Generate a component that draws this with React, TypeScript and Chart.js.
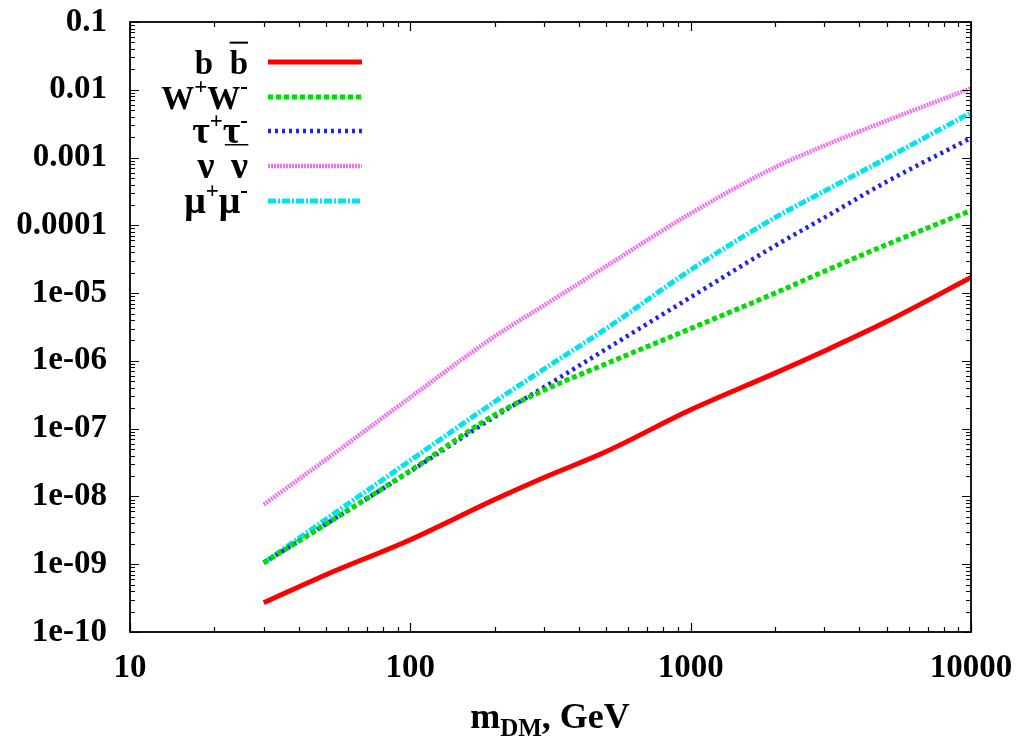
import React, { useEffect, useRef } from "react";
import { Chart, registerables } from "chart.js";

Chart.register(...registerables);

// Dark-matter mass grid (GeV)
const masses = [30, 50, 100, 200, 300, 500, 1000, 2000, 3000, 5000, 10000];

// Values per annihilation channel at each mass
const bbValues = [2.7e-10, 7e-10, 2.3e-9, 9e-9, 1.9e-8, 4.6e-8, 1.9e-7, 6.6e-7, 1.4e-6, 3.8e-6, 1.7e-5];
const wwValues = [1.05e-9, 3.9e-9, 2.4e-8, 1.6e-7, 3.7e-7, 9.1e-7, 3.0e-6, 1.0e-5, 2.1e-5, 5.2e-5, 1.66e-4];
const tautauValues = [1.05e-9, 3.9e-9, 2.35e-8, 1.5e-7, 4.1e-7, 1.5e-6, 8.7e-6, 5.0e-5, 1.3e-4, 4.4e-4, 1.95e-3];
const nunuValues = [7.6e-9, 3.5e-8, 2.9e-7, 2.3e-6, 6.6e-6, 2.5e-5, 1.5e-4, 7.2e-4, 1.5e-3, 3.5e-3, 1.05e-2];
const mumuValues = [1.05e-9, 4.6e-9, 3.4e-8, 2.5e-7, 7.6e-7, 3.0e-6, 2.2e-5, 1.3e-4, 3.2e-4, 9.8e-4, 4.6e-3];

// Axis ticks
const xTickValues = [10, 100, 1000, 10000];
const xTickLabels = ["10", "100", "1000", "10000"];
const yTickValues = [1e-10, 1e-9, 1e-8, 1e-7, 1e-6, 1e-5, 1e-4, 1e-3, 1e-2, 1e-1];
const yTickLabels = ["1e-10", "1e-09", "1e-08", "1e-07", "1e-06", "1e-05", "0.0001", "0.001", "0.01", "0.1"];

const SERIF = "'Liberation Serif', 'DejaVu Serif', serif";

type Part = { t: string; sup?: boolean; over?: boolean; under?: boolean; greek?: boolean };

// Legend labels, in gnuplot-like enhanced notation
const legendLabels: Part[][] = [
  [{ t: "b" }, { t: "  " }, { t: "b", over: true }],
  [{ t: "W" }, { t: "+", sup: true }, { t: "W" }, { t: "-", sup: true }],
  [{ t: "τ", greek: true }, { t: "+", sup: true }, { t: "τ", greek: true, under: true }, { t: "-", sup: true }],
  [{ t: "ν", greek: true }, { t: "  " }, { t: "ν", greek: true }],
  [{ t: "μ", greek: true }, { t: "+", sup: true }, { t: "μ", greek: true }, { t: "-", sup: true }],
];

const lineStyles = [
  { color: "#ff0000", width: 5, dash: [] as number[] },
  { color: "#00dd00", width: 5, dash: [5, 3] },
  { color: "#2222ee", width: 4.5, dash: [3, 4] },
  { color: "#ee72ee", width: 4.5, dash: [2, 1] },
  { color: "#00e4f0", width: 5, dash: [8, 2, 2, 2] },
];

const seriesValues = [bbValues, wwValues, tautauValues, nunuValues, mumuValues];

function partFont(p: Part, size: number) {
  if (p.sup) return `bold ${Math.round(size * 0.7)}px ${SERIF}`;
  if (p.greek) return `bold ${Math.round(size * 1.15)}px ${SERIF}`;
  return `bold ${size}px ${SERIF}`;
}

function drawParts(ctx: CanvasRenderingContext2D, parts: Part[], rightX: number, baseY: number, size: number) {
  const widths = parts.map((p) => {
    ctx.font = partFont(p, size);
    return ctx.measureText(p.t).width;
  });
  const total = widths.reduce((a, b) => a + b, 0);
  let x = rightX - total;
  ctx.fillStyle = "#000";
  ctx.textBaseline = "alphabetic";
  ctx.textAlign = "left";
  parts.forEach((p, i) => {
    ctx.font = partFont(p, size);
    const y = p.sup ? baseY - size * 0.45 : baseY;
    ctx.fillText(p.t, x, y);
    if (p.over) ctx.fillRect(x, baseY - size * 0.98, widths[i], 2);
    if (p.under) ctx.fillRect(x + 2, baseY + 1, widths[i] + 6, 1.5);
    x += widths[i];
  });
}

const framePlugin = {
  id: "frameAndDecor",
  afterDraw(chart: any) {
    const { ctx, chartArea } = chart;
    const { left, right, top, bottom } = chartArea;
    const xs = chart.scales.x;
    const ys = chart.scales.y;
    ctx.save();
    ctx.strokeStyle = "#000";
    ctx.lineWidth = 1.8;
    ctx.setLineDash([]);
    ctx.strokeRect(left, top, right - left, bottom - top);

    const majorLen = 9;
    const minorLen = 5;
    ctx.lineWidth = 1.2;
    ctx.beginPath();
    // x ticks (bottom and top, inward)
    for (let d = 10; d <= 10000; d *= 10) {
      for (let k = 1; k <= 9; k++) {
        const v = d * k;
        if (v > 10000) break;
        const px = Math.round(xs.getPixelForValue(v)) + 0.5;
        const len = k === 1 ? majorLen : minorLen;
        ctx.moveTo(px, bottom);
        ctx.lineTo(px, bottom - len);
        ctx.moveTo(px, top);
        ctx.lineTo(px, top + len);
      }
    }
    // y ticks (left and right, inward)
    for (let e = -10; e <= -1; e++) {
      for (let k = 1; k <= 9; k++) {
        const v = k * Math.pow(10, e);
        if (v > 0.1 + 1e-12) break;
        const py = Math.round(ys.getPixelForValue(v)) + 0.5;
        const len = k === 1 ? majorLen : minorLen;
        ctx.moveTo(left, py);
        ctx.lineTo(left + len, py);
        ctx.moveTo(right, py);
        ctx.lineTo(right - len, py);
      }
    }
    ctx.stroke();

    // Legend
    const rowYs = [62, 97, 131, 166, 201];
    legendLabels.forEach((parts, i) => {
      const st = lineStyles[i];
      const y = rowYs[i];
      ctx.save();
      ctx.strokeStyle = st.color;
      ctx.lineWidth = st.width;
      ctx.lineCap = "butt";
      ctx.setLineDash(st.dash);
      ctx.beginPath();
      ctx.moveTo(268, y);
      ctx.lineTo(362, y);
      ctx.stroke();
      ctx.restore();
      drawParts(ctx, parts, 248, y + 12, 33);
    });

    // x axis title: m_DM, GeV
    const cx = 550;
    const by = 728;
    const big = `bold 36px ${SERIF}`;
    const small = `bold 25px ${SERIF}`;
    ctx.font = big;
    const w1 = ctx.measureText("m").width;
    const w3 = ctx.measureText(", GeV").width;
    ctx.font = small;
    const w2 = ctx.measureText("DM").width;
    let x = cx - (w1 + w2 + w3) / 2;
    ctx.fillStyle = "#000";
    ctx.textAlign = "left";
    ctx.textBaseline = "alphabetic";
    ctx.font = big;
    ctx.fillText("m", x, by);
    x += w1;
    ctx.font = small;
    ctx.fillText("DM", x, by + 8);
    x += w2;
    ctx.font = big;
    ctx.fillText(", GeV", x, by);
    ctx.restore();
  },
};

export default function App() {
  const ref = useRef<HTMLCanvasElement>(null);

  useEffect(() => {
    if (!ref.current) return;
    const datasets = seriesValues.map((vals, i) => ({
      label: String(i),
      data: masses.map((m, j) => ({ x: m, y: vals[j] })),
      borderColor: lineStyles[i].color,
      borderWidth: lineStyles[i].width,
      borderDash: lineStyles[i].dash,
      borderCapStyle: "butt" as const,
      pointRadius: 0,
      fill: false,
      cubicInterpolationMode: "monotone" as const,
    }));
    const chart = new Chart(ref.current, {
      type: "line",
      data: { datasets },
      options: {
        responsive: false,
        animation: false,
        devicePixelRatio: 1,
        layout: { padding: { top: 22, right: 54, left: 0, bottom: 0 } },
        plugins: { legend: { display: false }, tooltip: { enabled: false } },
        scales: {
          x: {
            type: "logarithmic",
            min: 10,
            max: 10000,
            grid: { display: false, drawTicks: false },
            border: { display: false },
            afterBuildTicks: (scale: any) => {
              scale.ticks = xTickValues.map((v) => ({ value: v }));
            },
            afterFit: (scale: any) => {
              scale.height = 107;
              scale.paddingLeft = 0;
              scale.paddingRight = 0;
            },
            ticks: {
              autoSkip: false,
              maxRotation: 0,
              padding: 17,
              color: "#000",
              font: { family: SERIF, size: 33, weight: "bold" },
              callback: (v: any) => {
                const i = xTickValues.indexOf(Number(v));
                return i >= 0 ? xTickLabels[i] : "";
              },
            },
          },
          y: {
            type: "logarithmic",
            min: 1e-10,
            max: 0.1,
            grid: { display: false, drawTicks: false },
            border: { display: false },
            afterBuildTicks: (scale: any) => {
              scale.ticks = yTickValues.map((v) => ({ value: v }));
            },
            afterFit: (scale: any) => {
              scale.width = 130;
              scale.paddingTop = 0;
              scale.paddingBottom = 0;
            },
            ticks: {
              autoSkip: false,
              padding: 23,
              color: "#000",
              font: { family: SERIF, size: 33, weight: "bold" },
              callback: (v: any) => {
                const i = yTickValues.findIndex((t) => Math.abs(t - Number(v)) / t < 1e-6);
                return i >= 0 ? yTickLabels[i] : "";
              },
            },
          },
        },
      },
      plugins: [framePlugin],
    });
    return () => chart.destroy();
  }, []);

  return (
    <div style={{ position: "fixed", left: 0, top: 0, width: 1025, height: 739, background: "#fff" }}>
      <canvas ref={ref} width={1025} height={739} style={{ display: "block", width: 1025, height: 739 }} />
    </div>
  );
}
